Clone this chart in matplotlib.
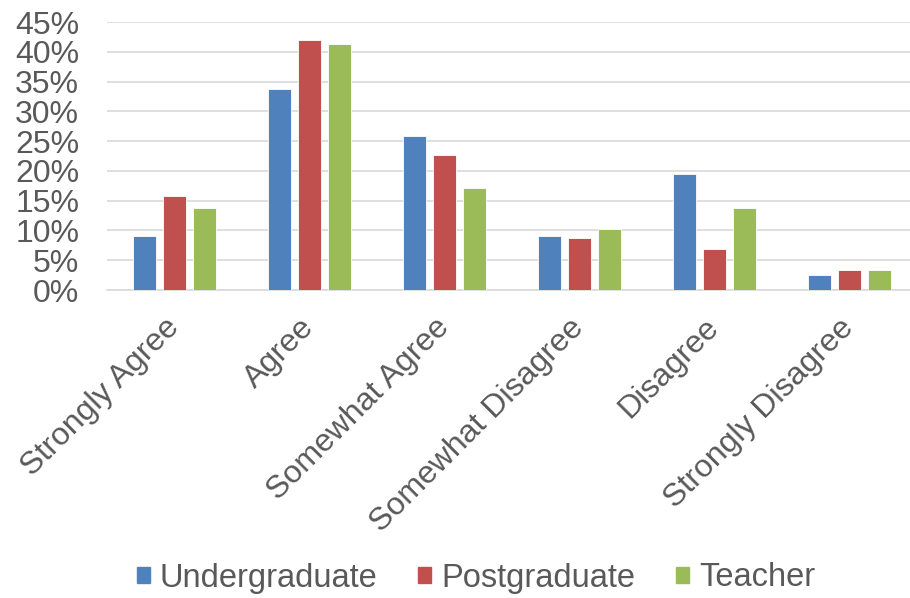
import numpy as np
import matplotlib.pyplot as plt
from matplotlib.ticker import PercentFormatter
from matplotlib.patches import Patch

plt.rcParams["font.family"] = ["Liberation Sans", "DejaVu Sans"]

categories = ["Strongly Agree", "Agree", "Somewhat Agree",
              "Somewhat Disagree", "Disagree", "Strongly Disagree"]
undergraduate = [0.090, 0.337, 0.259, 0.090, 0.194, 0.025]
postgraduate  = [0.157, 0.420, 0.227, 0.087, 0.069, 0.034]
teacher       = [0.137, 0.413, 0.171, 0.103, 0.137, 0.034]
series_names = ["Undergraduate", "Postgraduate", "Teacher"]
colors = ["#4F81BD", "#C0504D", "#9BBB59"]
text_color = "#595959"

fig = plt.figure(figsize=(9.10, 5.98), dpi=100)
ax = fig.add_axes([107/910, 1 - 290/598, 810/910, (290 - 22)/598])

x = np.arange(len(categories))
step, w = 0.222, 0.17
for i, (vals, c) in enumerate(zip([undergraduate, postgraduate, teacher], colors)):
    ax.bar(x + (i - 1) * step, vals, width=w, color=c, edgecolor="white",
           lw=0.6, zorder=3)

ax.set_xlim(-0.5, len(categories) - 0.5)
ax.set_ylim(0, 0.45)
ax.set_yticks(np.arange(0, 0.451, 0.05))
ax.yaxis.set_major_formatter(PercentFormatter(1.0, decimals=0))
ax.grid(axis="y", color="#D9D9D9", lw=1.2, zorder=0)
for s in ["top", "right", "left"]:
    ax.spines[s].set_visible(False)
ax.spines["bottom"].set_color("#D9D9D9")
ax.spines["bottom"].set_linewidth(1.2)
ax.tick_params(length=0, colors=text_color)
ax.tick_params(axis="y", labelsize=23, pad=20)
ax.set_xticks(x)
ax.set_xticklabels(categories, rotation=45, ha="right", va="center",
                   rotation_mode="anchor", fontsize=23, color=text_color)
ax.tick_params(axis="x", pad=24)

handles = [Patch(color=c) for c in colors]
fig.legend(handles, series_names, loc="center", bbox_to_anchor=(0.523, 1 - 578/598),
           ncol=3, frameon=False, fontsize=23.5, handlelength=0.4, handleheight=0.4,
           handletextpad=0.3, columnspacing=1.25, labelcolor=text_color)

fig.savefig("out.png", dpi=100)
